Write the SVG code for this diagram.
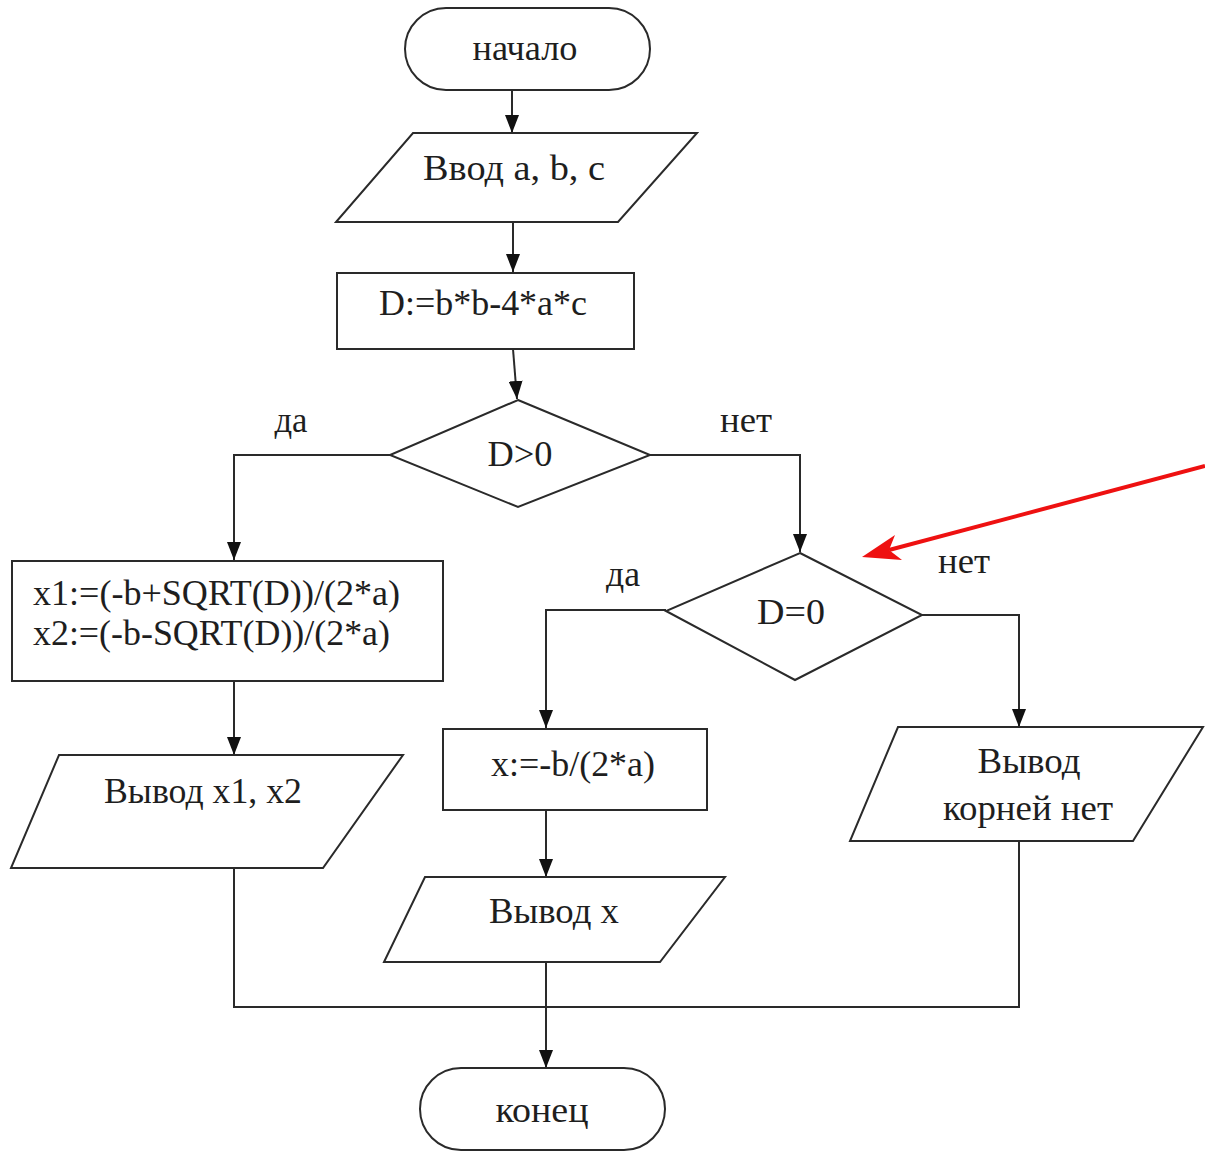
<svg xmlns="http://www.w3.org/2000/svg" width="1205" height="1153" viewBox="0 0 1205 1153">
<style>
.s{fill:#fff;stroke:#2a2a2a;stroke-width:2}
.c{fill:none;stroke:#2a2a2a;stroke-width:2}
text{font-family:"Liberation Serif","Times New Roman",serif;font-size:36px;fill:#1e1e1e}
.m{text-anchor:middle}
</style>
<defs>
<marker id="ah" markerUnits="userSpaceOnUse" markerWidth="18" markerHeight="14" refX="18" refY="7" orient="auto" viewBox="0 0 18 14">
<path d="M0,0 L18,7 L0,14 Z" fill="#111"/>
</marker>
</defs>
<rect width="1205" height="1153" fill="#fff"/>
<g id="connectors">
<path class="c" d="M512,90 V133" marker-end="url(#ah)"/>
<path class="c" d="M513,222 V272" marker-end="url(#ah)"/>
<path class="c" d="M513,349 L517,399" marker-end="url(#ah)"/>
<path class="c" d="M390,455 H234 V560" marker-end="url(#ah)"/>
<path class="c" d="M650,455 H800 V552" marker-end="url(#ah)"/>
<path class="c" d="M666,610 H546 V728" marker-end="url(#ah)"/>
<path class="c" d="M922,615 H1019 V727" marker-end="url(#ah)"/>
<path class="c" d="M234,681 V755" marker-end="url(#ah)"/>
<path class="c" d="M546,810 V877" marker-end="url(#ah)"/>
<path class="c" d="M234,868 V1007 H1019 V841"/>
<path class="c" d="M546,962 V1068" marker-end="url(#ah)"/>
<text x="291" y="432" class="m" textLength="33" lengthAdjust="spacingAndGlyphs">да</text>
<text x="746" y="432" class="m" textLength="52" lengthAdjust="spacingAndGlyphs">нет</text>
<text x="623" y="586" class="m" textLength="34" lengthAdjust="spacingAndGlyphs">да</text>
<text x="964" y="573" class="m" textLength="52" lengthAdjust="spacingAndGlyphs">нет</text>
</g>
<g id="start">
<rect class="s" x="405" y="8" width="245" height="82" rx="41" ry="41"/>
<text x="525" y="60" class="m" textLength="105" lengthAdjust="spacingAndGlyphs">начало</text>
</g>
<g id="input">
<polygon class="s" points="413,133 697,133 618,222 336,222"/>
<text x="514" y="180" class="m" textLength="182" lengthAdjust="spacingAndGlyphs">Ввод  a, b, c</text>
</g>
<g id="calcD">
<rect class="s" x="337" y="273" width="297" height="76"/>
<text x="483" y="315" class="m" textLength="208" lengthAdjust="spacingAndGlyphs">D:=b*b-4*a*c</text>
</g>
<g id="condD1">
<polygon class="s" points="518,400 650,455 518,507 390,455"/>
<text x="520" y="466" class="m" textLength="65" lengthAdjust="spacingAndGlyphs">D&gt;0</text>
</g>
<g id="twoRoots">
<rect class="s" x="12" y="561" width="431" height="120"/>
<text x="33" y="605" textLength="367" lengthAdjust="spacingAndGlyphs">x1:=(-b+SQRT(D))/(2*a)</text>
<text x="33" y="645" textLength="357" lengthAdjust="spacingAndGlyphs">x2:=(-b-SQRT(D))/(2*a)</text>
</g>
<g id="outTwo">
<polygon class="s" points="59,755 403,755 323,868 11,868"/>
<text x="203" y="803" class="m" textLength="198" lengthAdjust="spacingAndGlyphs">Вывод x1, x2</text>
</g>
<g id="condD2">
<polygon class="s" points="800,553 922,615 795,680 666,611"/>
<text x="791" y="624" class="m" textLength="68" lengthAdjust="spacingAndGlyphs">D=0</text>
</g>
<g id="oneRoot">
<rect class="s" x="443" y="729" width="264" height="81"/>
<text x="573" y="776" class="m" textLength="164" lengthAdjust="spacingAndGlyphs">x:=-b/(2*a)</text>
</g>
<g id="outOne">
<polygon class="s" points="425,877 725,877 660,962 384,962"/>
<text x="554" y="923" class="m" textLength="130" lengthAdjust="spacingAndGlyphs">Вывод x</text>
</g>
<g id="outNone">
<polygon class="s" points="898,727 1203,727 1133,841 850,841"/>
<text x="1029" y="773" class="m" textLength="103" lengthAdjust="spacingAndGlyphs">Вывод</text>
<text x="1028" y="820" class="m" textLength="170" lengthAdjust="spacingAndGlyphs">корней нет</text>
</g>
<g id="end">
<rect class="s" x="420" y="1068" width="245" height="82" rx="41" ry="41"/>
<text x="542" y="1122" class="m" textLength="93" lengthAdjust="spacingAndGlyphs">конец</text>
</g>
<g id="pointer">
<path d="M1205,466 L889,550" fill="none" stroke="#ee1111" stroke-width="4"/>
<polygon points="862,557 895,535 889,550 902,560" fill="#ee1111"/>
</g>
</svg>
